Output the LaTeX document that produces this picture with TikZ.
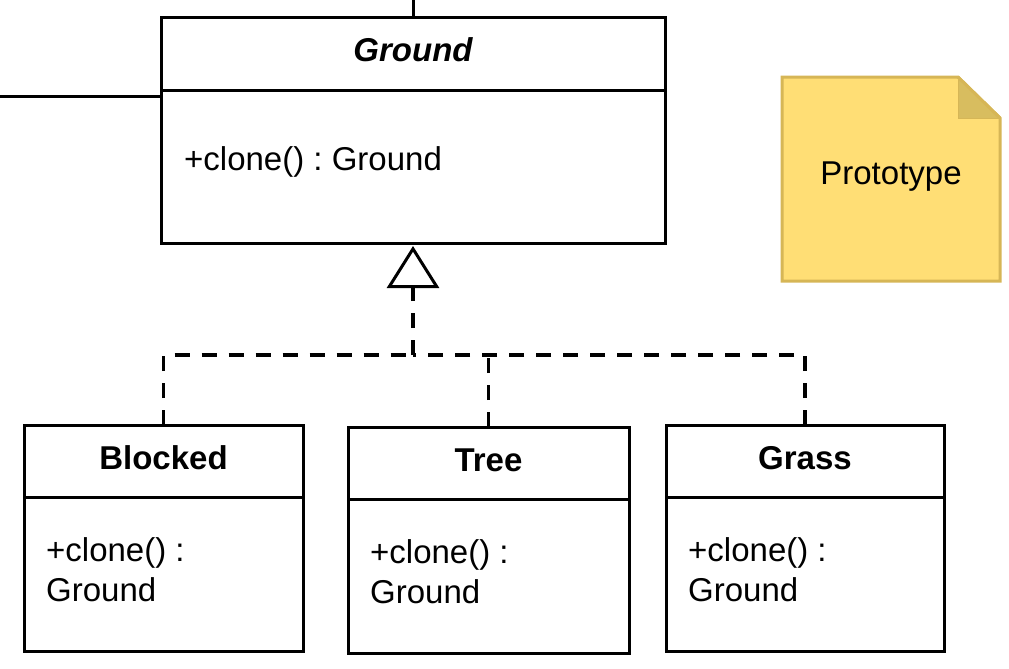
\documentclass[tikz,border=0pt]{standalone}
\usepackage{fontspec}
\setmainfont{Liberation Sans}
\frenchspacing
\usetikzlibrary{arrows.meta,calc}
\definecolor{notefill}{HTML}{FFDE75}
\definecolor{notestroke}{HTML}{D6B656}
\definecolor{notefold}{HTML}{D8BD5F}
\tikzset{
  classbox/.style={draw=black, line width=3pt, fill=white, rectangle, inner sep=0pt, outer sep=0pt, anchor=north west},
  divider/.style={draw=black, line width=3pt},
  lbl/.style={inner sep=0pt, font=\fontsize{33}{40}\selectfont},
  hdr/.style={inner sep=0pt, font=\fontsize{33}{40}\selectfont\bfseries},
  dashconn/.style={draw=black, line width=3.2pt, dash pattern=on 15pt off 12pt},
  plainconn/.style={draw=black, line width=3pt},
}
\begin{document}
\frenchspacing
\begin{tikzpicture}[x=1pt,y=-1pt]
\useasboundingbox (0,0) rectangle (1009,669);
% Ground class
\node[classbox, minimum width=504pt, minimum height=225pt] (ground) at (161,18) {};
\draw[divider] (161,90) -- (665,90);
\node[hdr, font=\fontsize{33}{40}\selectfont\bfseries\itshape] (groundname) at (413,50) {Ground};
\node[lbl, anchor=west] (groundop) at (184,162) {+clone() : Ground};
% Blocked
\node[classbox, minimum width=279pt, minimum height=226pt] (blocked) at (24,425) {};
\draw[divider] (24,497) -- (303,497);
\node[hdr] (blockedname) at (163.5,458) {Blocked};
\node[lbl, anchor=west, align=left] (blockedop) at (46,570) {+clone() :\\Ground};
% Tree
\node[classbox, minimum width=281pt, minimum height=226pt] (tree) at (348,427) {};
\draw[divider] (348,499) -- (629,499);
\node[hdr] (treename) at (488.5,460) {Tree};
\node[lbl, anchor=west, align=left] (treeop) at (370,572) {+clone() :\\Ground};
% Grass
\node[classbox, minimum width=278pt, minimum height=226pt] (grass) at (666,425) {};
\draw[divider] (666,497) -- (944,497);
\node[hdr] (grassname) at (805,458) {Grass};
\node[lbl, anchor=west, align=left] (grassop) at (688,570) {+clone() :\\Ground};
% Note
\draw[notestroke, fill=notefill, line width=3pt, line join=miter]
  (782,77) -- (958,77) -- (1000,118) -- (1000,281) -- (782,281) -- cycle;
\draw[notestroke, fill=notefold, line width=0pt] (958,77) -- (958,118) -- (1000,118) -- cycle;
\draw[notestroke, line width=3pt, line join=miter] (958,77) -- (1000,118);
\node[lbl] (note) at (891,177) {Prototype};
% outside connectors
\coordinate (topend) at (413,0);
\coordinate (leftend) at (0,96);
\draw[plainconn] (topend) -- (topend |- ground.north);
\draw[plainconn] (leftend) -- (leftend -| ground.west);
% inheritance connectors
\coordinate (junction) at (413,355);
\draw[dashconn] (blocked.north) |- (junction);
\draw[dashconn] (grass.north) |- (junction);
\draw[dashconn] (tree.north) -- (tree.north |- junction);
\draw[dashconn, shorten >=3pt, -{Triangle[open, length=42pt, width=52pt, line width=3pt]}] (junction) -- (junction |- ground.south);
\end{tikzpicture}
\end{document}
